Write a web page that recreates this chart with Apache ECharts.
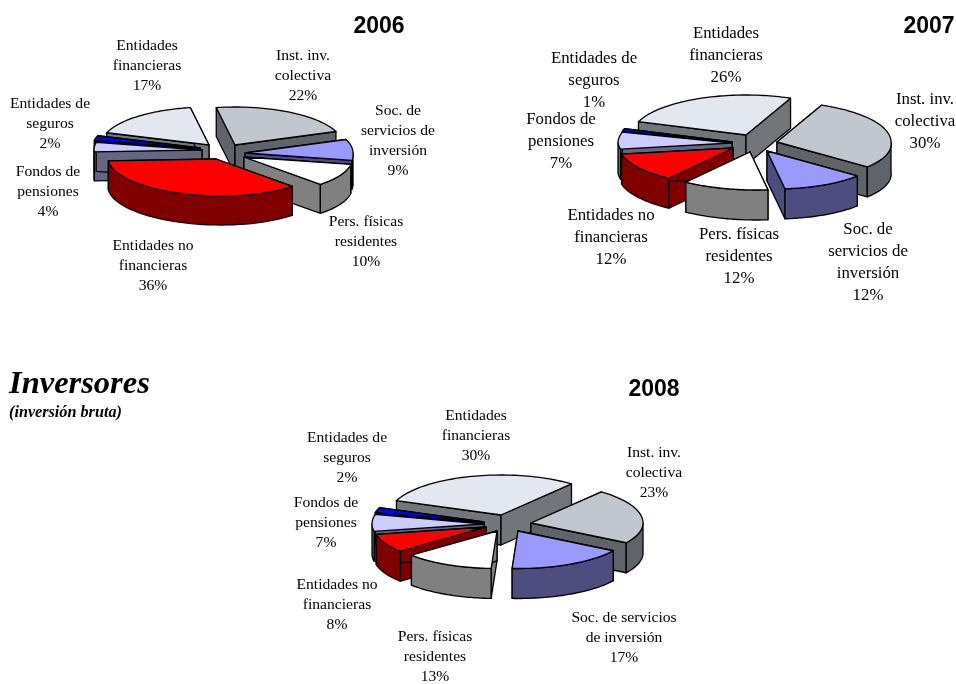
<!DOCTYPE html>
<html><head><meta charset="utf-8">
<style>html,body{margin:0;padding:0;background:#fff}#c{width:956px;height:684px}</style>
<script src="https://cdn.jsdelivr.net/npm/echarts@6/dist/echarts.min.js"></script>
</head><body><div id="c"></div>
<script>
// ---- data ----
const categories = ['Inst. inv. colectiva','Soc. de servicios de inversión','Pers. físicas residentes','Entidades no financieras','Fondos de pensiones','Entidades de seguros','Entidades financieras'];
const values2006 = [22,9,10,36,4,2,17];
const values2007 = [30,12,12,12,7,1,26];
const values2008 = [23,17,13,8,7,2,30];
const labels2006 = ['Inst. inv.\ncolectiva','Soc. de\nservicios de\ninversión','Pers. físicas\nresidentes','Entidades no\nfinancieras','Fondos de\npensiones','Entidades de\nseguros','Entidades\nfinancieras'];
const labels2007 = ['Inst. inv.\ncolectiva','Soc. de\nservicios de\ninversión','Pers. físicas\nresidentes','Entidades no\nfinancieras','Fondos de\npensiones','Entidades de\nseguros','Entidades\nfinancieras'];
const labels2008 = ['Inst. inv.\ncolectiva','Soc. de servicios\nde inversión','Pers. físicas\nresidentes','Entidades no\nfinancieras','Fondos de\npensiones','Entidades de\nseguros','Entidades\nfinancieras'];
const years = ['2006','2007','2008'];
const heading = 'Inversores';
const subheading = '(inversión bruta)';

// ---- styles and layout ----
const topColors  = ['#C0C7CF','#9999FF','#FFFFFF','#FF0000','#CCCCFF','#0000FF','#E3E8F0'];
const sideColors = ['#60646A','#4D4D80','#808080','#800000','#666680','#000080','#72767A'];
const paintOrder = [6,0,5,4,1,2,3];
const paintOrderLater = [6,0,5,4,3,2,1];
const layouts = [
 {rx:108,ry:38,ryFront:37,shear:0.13,depth:29,start:-10,font:15.6,lh:20,order:paintOrder,
  apex:[[235,145],[245,153],[244,157],[216,159],[202,150],[200,148],[209,145]],
  text:[[303,76],[398,141],[366,242],[153,266],[48,192],[50,124],[147,66]]},
 {rx:114,ry:40,ryFront:38,shear:0.17,depth:30,start:23,font:16.8,lh:22,order:paintOrderLater,
  apex:[[777,142],[767,151],[750,152],[733,148],[732,143],[732,142],[746,135]],
  text:[[925,122],[868,263],[739,257],[611,238],[561,142],[594,81],[726,56]]},
 {rx:112,ry:40,ryFront:37.5,shear:0,depth:30,start:39,font:15.6,lh:20,order:paintOrderLater,
  apex:[[531,523],[518,531],[497,531],[486,527],[484,524],[484,522],[501,515]],
  text:[[654,473],[624,638],[435,657],[337,605],[326,523],[347,458],[476,436]]}
];
const serif = '"Liberation Serif","Times New Roman",serif';
const sans = '"Liberation Sans",Arial,sans-serif';
const rad = d => d*Math.PI/180;

function makeRender(vals, lay, labels){
  const total = vals.reduce((a,b)=>a+b,0);
  return function(params, api){
    const i = api.value(0), v = api.value(1);
    let before = 0; for(let k=0;k<i;k++) before += vals[k];
    const a1 = lay.start + before/total*360, a2 = a1 + v/total*360;
    const [ax,ay] = lay.apex[i];
    const P = (t,d=0)=>{
      const c = Math.cos(rad(t));
      const dy = c<0 ? -lay.ryFront*c : -lay.ry*c;
      return [ax+lay.rx*Math.sin(rad(t))+(dy>0?lay.shear*dy:0), ay+dy+d];
    };
    const line = {fill:sideColors[i],stroke:'#000',lineWidth:1.3,lineJoin:'round'};
    const kids = [];
    const wall = t=>({type:'polygon',shape:{points:[[ax,ay],P(t),P(t,lay.depth),[ax,ay+lay.depth]]},style:line});
    kids.push(wall(a1),wall(a2));
    // outer rim: the part of the arc on the viewer's side
    for(const off of [0,360]){
      const lo=Math.max(a1,90+off), hi=Math.min(a2,270+off);
      if(hi>lo){
        const up=[],dn=[];
        for(let t=lo;t<=hi+1e-6;t+=(hi-lo)/40){up.push(P(t));dn.unshift(P(t,lay.depth));}
        kids.push({type:'polygon',shape:{points:up.concat(dn)},style:line});
      }
    }
    const pts=[[ax,ay]];
    for(let t=a1;t<=a2+1e-6;t+=(a2-a1)/60) pts.push(P(t));
    kids.push({type:'polygon',shape:{points:pts},style:{fill:topColors[i],stroke:'#000',lineWidth:1.3,lineJoin:'round'}});
    const [tx,ty] = lay.text[i];
    kids.push({type:'text',z2:100,style:{text:labels[i]+'\n'+v+'%',x:tx,y:ty,align:'center',verticalAlign:'middle',
      font:lay.font+'px '+serif,lineHeight:lay.lh,fill:'#000'}});
    return {type:'group',children:kids};
  };
}
function makeSeries(vals, lay, labels){
  return {type:'custom',coordinateSystem:'none',silent:true,animation:false,clip:false,
    renderItem:makeRender(vals,lay,labels),
    data:lay.order.map(i=>({name:categories[i],value:[i,vals[i]]}))};
}
const yearStyle = {fontFamily:sans,fontWeight:'bold',fontSize:23,color:'#000'};
const chart = echarts.init(document.getElementById('c'),null,{renderer:'canvas'});
chart.setOption({
  animation:false,
  backgroundColor:'#fff',
  title:[
    {text:years[0],left:374,top:10,textAlign:'center',textStyle:yearStyle},
    {text:years[1],left:924,top:10,textAlign:'center',textStyle:yearStyle},
    {text:years[2],left:649,top:373,textAlign:'center',textStyle:yearStyle},
    {text:heading,left:4,top:363,textStyle:{fontFamily:serif,fontWeight:'bold',fontStyle:'italic',fontSize:32.5,color:'#000'}},
    {text:subheading,left:4,top:400,textStyle:{fontFamily:serif,fontWeight:'bold',fontStyle:'italic',fontSize:16.2,color:'#000'}}
  ],
  series:[makeSeries(values2006,layouts[0],labels2006),makeSeries(values2007,layouts[1],labels2007),makeSeries(values2008,layouts[2],labels2008)]
});
</script></body></html>
